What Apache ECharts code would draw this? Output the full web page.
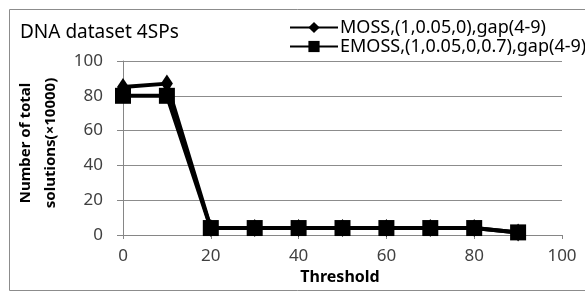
<!DOCTYPE html>
<html lang="en" style="height:100%">
<head>
    <meta charset="UTF-8">
    <title>DNA dataset 4SPs</title>
    <script src="https://cdn.jsdelivr.net/npm/echarts@6/dist/echarts.min.js"></script>
</head>
<body style="height:100%;margin:0;background:#fff">
<div id="main" style="width:585px;height:294px;"></div>
<script type="text/javascript">
    // threshold values on the x axis
    var thresholds = [0, 10, 20, 30, 40, 50, 60, 70, 80, 90];
    // number of total solutions (x10000)
    var mossValues = [85, 87, 4, 4, 4, 4, 4, 4, 4, 1.5];
    var emossValues = [80, 80, 4, 4, 4, 4, 4, 4, 4, 1.5];
    var seriesNames = ['MOSS,(1,0.05,0),gap(4-9)', 'EMOSS,(1,0.05,0,0.7),gap(4-9)'];

    function pairs(xs, ys) {
        return xs.map(function (x, i) { return [x, ys[i]]; });
    }

    var font = '"Noto Sans", sans-serif';
    var myChart = echarts.init(document.getElementById('main'));
    var option = {
        animation: false,
        textStyle: {fontFamily: font},
        title: {
            text: 'DNA dataset 4SPs',
            left: 15,
            top: 18,
            textStyle: {fontSize: 19, fontWeight: 'normal', color: '#000', fontFamily: font}
        },
        legend: {
            left: 284,
            top: 13,
            orient: 'vertical',
            itemGap: 0,
            itemWidth: 48,
            itemHeight: 14,
            textStyle: {fontSize: 18, lineHeight: 19, color: '#000', padding: [0, 0, 0, -3]},
            data: seriesNames
        },
        graphic: [{
            type: 'rect',
            shape: {x: 9.5, y: 9.5, width: 600, height: 281},
            style: {fill: 'none', stroke: '#8c8c8c', lineWidth: 1},
            silent: true
        }],
        grid: {left: 123, right: 23, top: 61, bottom: 59},
        xAxis: {
            type: 'value',
            min: 0,
            max: 100,
            interval: 20,
            name: 'Threshold',
            nameLocation: 'middle',
            nameGap: 33,
            nameTextStyle: {fontSize: 16, fontWeight: 'bold', color: '#000', padding: [0, 5, 0, 0]},
            axisLine: {show: true, lineStyle: {color: '#868686'}},
            axisTick: {show: true, length: 4, lineStyle: {color: '#868686'}},
            axisLabel: {fontSize: 17, color: '#404040', margin: 13},
            splitLine: {show: false}
        },
        yAxis: {
            type: 'value',
            min: 0,
            max: 100,
            interval: 20,
            name: 'Number of total\nsolutions(×10000)',
            nameLocation: 'middle',
            nameRotate: 90,
            nameGap: 55,
            nameTextStyle: {fontSize: 15, fontWeight: 'bold', color: '#000', lineHeight: 25, align: 'center', padding: [0, 0, 0, 10]},
            axisLine: {show: true, lineStyle: {color: '#868686'}},
            axisTick: {show: true, length: 6, lineStyle: {color: '#868686'}},
            axisLabel: {fontSize: 17, color: '#404040', margin: 20},
            splitLine: {lineStyle: {color: '#8c8c8c'}}
        },
        series: [
            {
                name: seriesNames[0],
                type: 'line',
                data: pairs(thresholds, mossValues),
                symbol: 'diamond',
                symbolSize: [12, 18],
                lineStyle: {color: '#000', width: 4},
                itemStyle: {color: '#000'},
                z: 3
            },
            {
                name: seriesNames[1],
                type: 'line',
                data: pairs(thresholds, emossValues),
                symbol: 'rect',
                symbolSize: 16,
                lineStyle: {color: '#000', width: 4},
                itemStyle: {color: '#000'},
                z: 2
            }
        ]
    };
    myChart.setOption(option);
</script>
</body>
</html>
